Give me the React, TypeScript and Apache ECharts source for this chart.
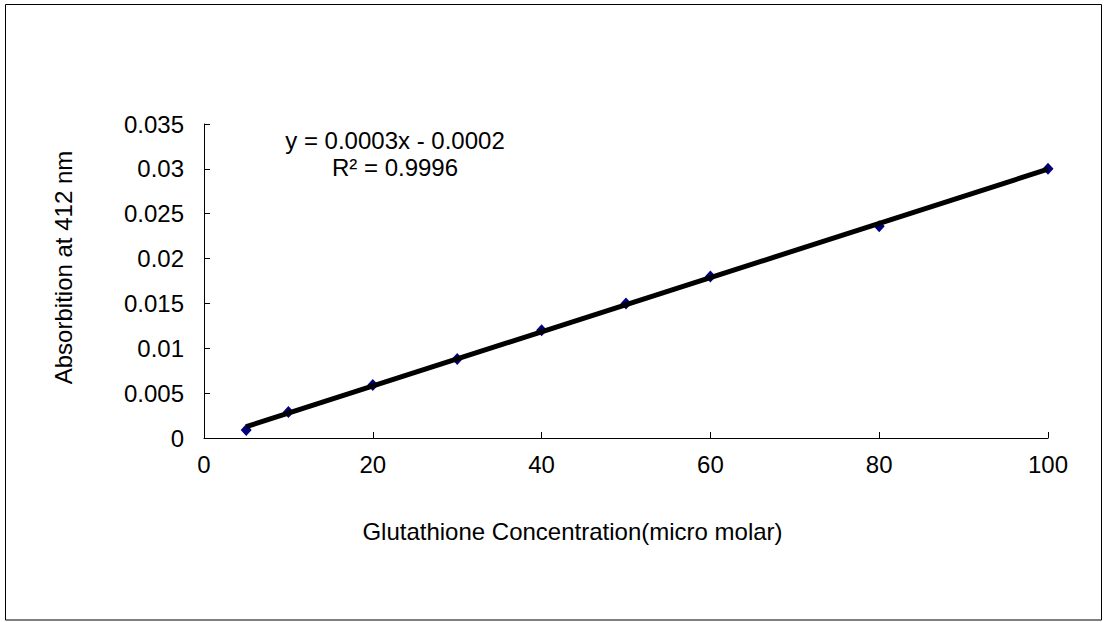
import React, { useEffect, useRef } from "react";
import * as echarts from "echarts";

const concentrations = [5, 10, 20, 30, 40, 50, 60, 80, 100];
const absorbance = [0.0009, 0.0029, 0.0059, 0.0088, 0.012, 0.015, 0.018, 0.0236, 0.03];
const xTitle = "Glutathione Concentration(micro molar)";
const yTitle = "Absorbition at 412 nm";
const equationText = "y = 0.0003x - 0.0002";
const r2Text = "R² = 0.9996";

const FONT = "'Liberation Sans', Arial, sans-serif";

function linearFit(xs: number[], ys: number[]) {
  const n = xs.length;
  const mx = xs.reduce((a, b) => a + b, 0) / n;
  const my = ys.reduce((a, b) => a + b, 0) / n;
  let sxx = 0;
  let sxy = 0;
  for (let i = 0; i < n; i++) {
    sxx += (xs[i] - mx) * (xs[i] - mx);
    sxy += (xs[i] - mx) * (ys[i] - my);
  }
  const slope = sxy / sxx;
  return { slope, intercept: my - slope * mx };
}

export default function App() {
  const ref = useRef<HTMLDivElement>(null);
  useEffect(() => {
    if (!ref.current) return;
    const chart = echarts.init(ref.current, undefined, { renderer: "svg" });
    const fit = linearFit(concentrations, absorbance);
    const xMin = Math.min(...concentrations);
    const xMax = Math.max(...concentrations);
    const trend = [
      [xMin, fit.slope * xMin + fit.intercept],
      [xMax, fit.slope * xMax + fit.intercept],
    ];
    chart.setOption({
      animation: false,
      backgroundColor: "#fff",
      grid: { left: 204, top: 124, width: 844, height: 314, containLabel: false },
      xAxis: {
        type: "value",
        min: 0,
        max: 100,
        interval: 20,
        splitLine: { show: false },
        axisLine: { lineStyle: { color: "#000", width: 1 } },
        axisTick: { inside: true, length: 6, lineStyle: { color: "#000" } },
        axisLabel: { color: "#000", fontSize: 24, fontFamily: FONT, margin: 14 },
      },
      yAxis: {
        type: "value",
        min: 0,
        max: 0.035,
        interval: 0.005,
        splitLine: { show: false },
        axisLine: { show: true, lineStyle: { color: "#000", width: 1 } },
        axisTick: { show: true, inside: true, length: 6, lineStyle: { color: "#000" } },
        axisLabel: {
          color: "#000",
          fontSize: 24,
          fontFamily: FONT,
          margin: 20,
          formatter: (v: number) => String(+v.toFixed(3)),
        },
      },
      series: [
        {
          type: "scatter",
          data: concentrations.map((c, i) => [c, absorbance[i]]),
          symbol: "diamond",
          symbolSize: [11, 12],
          itemStyle: { color: "#000080", opacity: 1 },
          z: 2,
        },
        {
          type: "line",
          data: trend,
          showSymbol: false,
          symbol: "none",
          lineStyle: { color: "#000", width: 5 },
          z: 3,
        },
      ],
      graphic: [
        {
          type: "rect",
          shape: { x: 5.5, y: 4.5, width: 1096, height: 615.5 },
          style: { fill: "none", stroke: "#000", lineWidth: 1 },
          silent: true,
        },
        {
          type: "text",
          x: 572.5,
          y: 531,
          style: {
            text: xTitle,
            fontSize: 24,
            fontFamily: FONT,
            fill: "#000",
            textAlign: "center",
            textVerticalAlign: "middle",
          },
        },
        {
          type: "text",
          x: 63,
          y: 267.5,
          rotation: Math.PI / 2,
          style: {
            text: yTitle,
            fontSize: 24,
            fontFamily: FONT,
            fill: "#000",
            textAlign: "center",
            textVerticalAlign: "middle",
          },
        },
        {
          type: "text",
          x: 395,
          y: 140,
          style: {
            text: equationText,
            fontSize: 24,
            fontFamily: FONT,
            fill: "#000",
            textAlign: "center",
            textVerticalAlign: "middle",
          },
        },
        {
          type: "text",
          x: 395,
          y: 167,
          style: {
            text: r2Text,
            fontSize: 24,
            fontFamily: FONT,
            fill: "#000",
            textAlign: "center",
            textVerticalAlign: "middle",
          },
        },
      ],
    });
    return () => chart.dispose();
  }, []);
  return (
    <div
      ref={ref}
      style={{ position: "absolute", left: 0, top: 0, width: 1108, height: 622 }}
    />
  );
}
